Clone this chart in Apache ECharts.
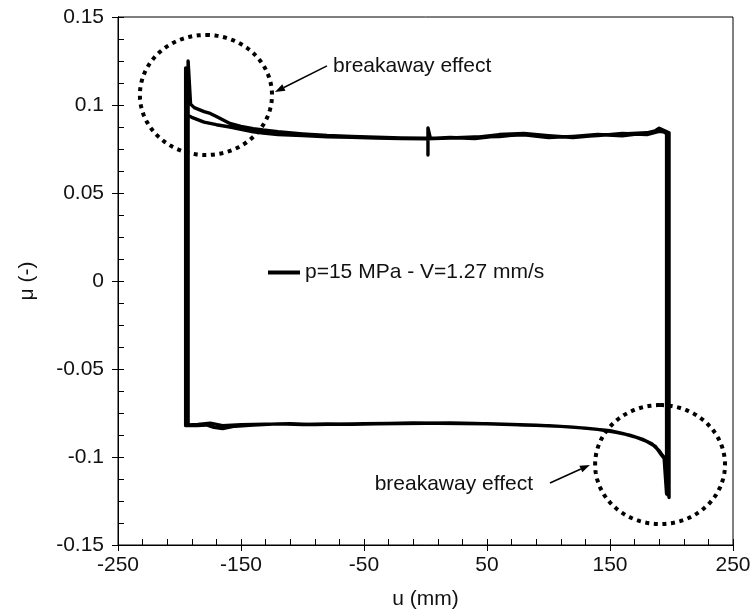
<!DOCTYPE html>
<html>
<head>
<meta charset="utf-8">
<script src="https://cdn.jsdelivr.net/npm/echarts@6/dist/echarts.min.js"></script>
<style>
html,body{margin:0;padding:0;background:#fff;}
#chart{width:756px;height:611px;}
</style>
</head>
<body>
<div id="chart"></div>
<script>
// ---- data (u in mm, mu dimensionless) ----
const seriesName = 'p=15 MPa - V=1.27 mm/s';
const xTicks = [-250, -150, -50, 50, 150, 250];
const yTicks = [-0.15, -0.1, -0.05, 0, 0.05, 0.1, 0.15];

// start of test near u = 0
const startU  = [2, 2, 4];
const startMu = [0.0716, 0.087, 0.081];

// upper branch, first pass (moving right)
const up1U  = [20, 40, 60, 80, 100, 120, 140, 160, 175, 185, 190, 194, 198];
const up1Mu = [0.0815, 0.081, 0.0825, 0.083, 0.0815, 0.0822, 0.0832, 0.0825, 0.0838, 0.0845, 0.0868, 0.0855, 0.0842];

// lower branch, first pass (moving left, after breakaway at right end)
const lo1U  = [198, 198, 196, 192, 187, 180, 170, 160, 150, 130, 110, 90, 70, 50, 30, 10, -10, -30, -50, -70, -90, -110, -130, -150, -165, -175, -185, -193];
const lo1Mu = [0.0842, -0.123, -0.1025, -0.099, -0.094, -0.0912, -0.0885, -0.0866, -0.085, -0.0836, -0.0826, -0.082, -0.0815, -0.0811, -0.081, -0.0808, -0.0806, -0.0809, -0.0811, -0.0813, -0.0816, -0.0811, -0.0813, -0.0816, -0.0822, -0.0808, -0.0815, -0.0818];

// upper branch, second pass (higher breakaway curve)
const up2U  = [-193, -193, -191, -188, -180, -175, -170, -159, -150, -140, -132, -120, -100, -80, -60, -40, -20, 0, 20, 40, 60, 80, 100, 120, 140, 160, 180, 190, 196];
const up2Mu = [-0.0818, 0.125, 0.1005, 0.0985, 0.0962, 0.0952, 0.0935, 0.0895, 0.0878, 0.0866, 0.0858, 0.0848, 0.0836, 0.0827, 0.0822, 0.0817, 0.0813, 0.0811, 0.0813, 0.0818, 0.0821, 0.0835, 0.0822, 0.0818, 0.0826, 0.0838, 0.0832, 0.085, 0.0845];

// lower branch, second pass
const lo2U  = [196, 196, 194, 190, 184, 176, 166, 155, 140, 120, 100, 80, 60, 40, 20, 0, -20, -40, -60, -80, -100, -120, -140, -155, -165, -172, -178, -186, -195];
const lo2Mu = [0.0845, -0.121, -0.1005, -0.0965, -0.0925, -0.0898, -0.0876, -0.086, -0.0843, -0.083, -0.0822, -0.0818, -0.0813, -0.081, -0.0807, -0.0808, -0.081, -0.0812, -0.0814, -0.0812, -0.0815, -0.0812, -0.0818, -0.0825, -0.0838, -0.0832, -0.0818, -0.0822, -0.0822];

// upper branch, third pass (lower breakaway curve)
const up3U  = [-195, -195, -193, -190, -180, -170, -159, -150, -140, -132, -120, -100, -80, -60, -40, -20, 0, 20, 40, 60, 80, 100, 120, 140, 160, 180, 190, 197];
const up3Mu = [-0.0822, 0.121, 0.094, 0.093, 0.0903, 0.0888, 0.0875, 0.0862, 0.0848, 0.084, 0.0832, 0.0826, 0.082, 0.0816, 0.0812, 0.081, 0.0808, 0.0812, 0.0816, 0.0832, 0.0838, 0.0825, 0.0815, 0.0828, 0.0836, 0.0842, 0.0858, 0.0835];

// final drop at right end
const endU  = [197, 197, 195, 192];
const endMu = [0.0835, -0.1215, -0.101, -0.0985];

// annotation anchors, in data coordinates
const annoCircles = [
  {u: -178.5, mu: 0.1057, ru: 53.7, rmu: 0.0341},
  {u: 190.7, mu: -0.1043, ru: 52.8, rmu: 0.0338}
];
const annoTexts = [
  {text: 'breakaway effect', u: -75.2, mu: 0.1222, align: 'left'},
  {text: 'breakaway effect', u: 87.4, mu: -0.1152, align: 'right'}
];
const annoArrows = [
  {u0: -80.1, mu0: 0.1222, u1: -122.4, mu1: 0.1074},
  {u0: 101.2, mu0: -0.1148, u1: 133.7, mu1: -0.1045}
];

// ---- build ----
function pairs(us, ms){ return us.map((u,i)=>[u, ms[i]]); }
const loopData = [].concat(
  pairs(startU,startMu), pairs(up1U,up1Mu), pairs(lo1U,lo1Mu),
  pairs(up2U,up2Mu), pairs(lo2U,lo2Mu), pairs(up3U,up3Mu), pairs(endU,endMu)
);

const FONT = 'Liberation Sans, Arial, sans-serif';
const FS = 21;

const chart = echarts.init(document.getElementById('chart'), null, {renderer:'canvas'});

function xAxisBase(extra){
  return Object.assign({
    type:'value', min:xTicks[0], max:xTicks[xTicks.length-1], interval:100,
    position:'bottom', gridIndex:0,
    axisLine:{show:true, onZero:false, lineStyle:{color:'#000', width:1}},
    splitLine:{show:false}
  }, extra);
}
function yAxisBase(extra){
  return Object.assign({
    type:'value', min:yTicks[0], max:yTicks[yTicks.length-1], interval:0.05,
    position:'left', gridIndex:0,
    axisLine:{show:true, onZero:false, lineStyle:{color:'#000', width:1}},
    splitLine:{show:false}
  }, extra);
}

const option = {
  animation:false,
  backgroundColor:'#fff',
  grid:{left:118, right:23, top:17, bottom:66, show:true, borderColor:'#000', borderWidth:1,
        backgroundColor:'transparent', containLabel:false, outerBoundsMode:'none'},
  legend:{
    show:true, left:268, top:262, orient:'horizontal', padding:0,
    icon:'rect', itemWidth:32, itemHeight:4, itemGap:5,
    textStyle:{fontFamily:FONT, fontSize:FS, color:'#111'},
    data:[{name:seriesName, itemStyle:{color:'#000'}}]
  },
  xAxis:[
    xAxisBase({
      name:'u (mm)', nameLocation:'middle', nameGap:44,
      nameTextStyle:{fontFamily:FONT, fontSize:FS, color:'#111'},
      axisTick:{show:true, inside:false, length:6, lineStyle:{color:'#000'}},
      axisLabel:{show:true, margin:10, fontFamily:FONT, fontSize:FS, color:'#111'}
    }),
    xAxisBase({
      axisTick:{show:true, inside:true, length:6, lineStyle:{color:'#000'}},
      minorTick:{show:true, splitNumber:5, length:6, lineStyle:{color:'#000'}},
      axisLabel:{show:false}
    })
  ],
  yAxis:[
    yAxisBase({
      name:'\u03bc (-)', nameLocation:'middle', nameGap:80, nameRotate:90,
      nameTextStyle:{fontFamily:FONT, fontSize:FS, color:'#111'},
      axisTick:{show:true, inside:false, length:6, lineStyle:{color:'#000'}},
      axisLabel:{show:true, margin:14, fontFamily:FONT, fontSize:FS, color:'#111'}
    }),
    yAxisBase({
      axisTick:{show:true, inside:true, length:6, lineStyle:{color:'#000'}},
      minorTick:{show:true, splitNumber:4, length:6, lineStyle:{color:'#000'}},
      axisLabel:{show:false}
    })
  ],
  series:[{
    name:seriesName, type:'line', xAxisIndex:0, yAxisIndex:0,
    data:loopData, showSymbol:false, symbol:'none', smooth:false,
    lineStyle:{color:'#000', width:3.4, join:'round', cap:'round'},
    itemStyle:{color:'#000'}
  }]
};
chart.setOption(option);

// annotations placed through the axis scales
function px(u, mu){ return chart.convertToPixel({xAxisIndex:0, yAxisIndex:0}, [u, mu]); }
const graphics = [];
annoCircles.forEach(c => {
  const ctr = px(c.u, c.mu);
  const ex = px(c.u + c.ru, c.mu);
  const ey = px(c.u, c.mu + c.rmu);
  const rx = Math.abs(ex[0]-ctr[0]), ry = Math.abs(ey[1]-ctr[1]);
  const pts = [];
  const N = 180;
  for (let i=0;i<=N;i++){
    const t = -Math.PI/2 + i/N*2*Math.PI;
    pts.push([ctr[0] + rx*Math.cos(t), ctr[1] + ry*Math.sin(t)]);
  }
  graphics.push({type:'polyline', silent:true, shape:{points:pts},
    style:{stroke:'#000', fill:null, lineWidth:4, lineDash:[4,4.6], lineCap:'butt'}, z:10});
});
annoArrows.forEach(a => {
  const p0 = px(a.u0, a.mu0), p1 = px(a.u1, a.mu1);
  const dx = p1[0]-p0[0], dy = p1[1]-p0[1];
  const L = Math.sqrt(dx*dx+dy*dy), ux = dx/L, uy = dy/L;
  const hl = 10, hw = 3.5;
  const bx = p1[0]-ux*hl, by = p1[1]-uy*hl;
  graphics.push({type:'line', silent:true, shape:{x1:p0[0], y1:p0[1], x2:bx, y2:by},
    style:{stroke:'#000', lineWidth:1.5}, z:10});
  graphics.push({type:'polygon', silent:true,
    shape:{points:[[p1[0],p1[1]],[bx-uy*hw, by+ux*hw],[bx+uy*hw, by-ux*hw]]},
    style:{fill:'#000'}, z:10});
});
annoTexts.forEach(t => {
  const p = px(t.u, t.mu);
  graphics.push({type:'text', silent:true, x:p[0], y:p[1],
    style:{text:t.text, fontFamily:FONT, fontSize:FS, fill:'#111', align:t.align, verticalAlign:'middle'}, z:10});
});
chart.setOption({graphic:graphics});
</script>
</body>
</html>
